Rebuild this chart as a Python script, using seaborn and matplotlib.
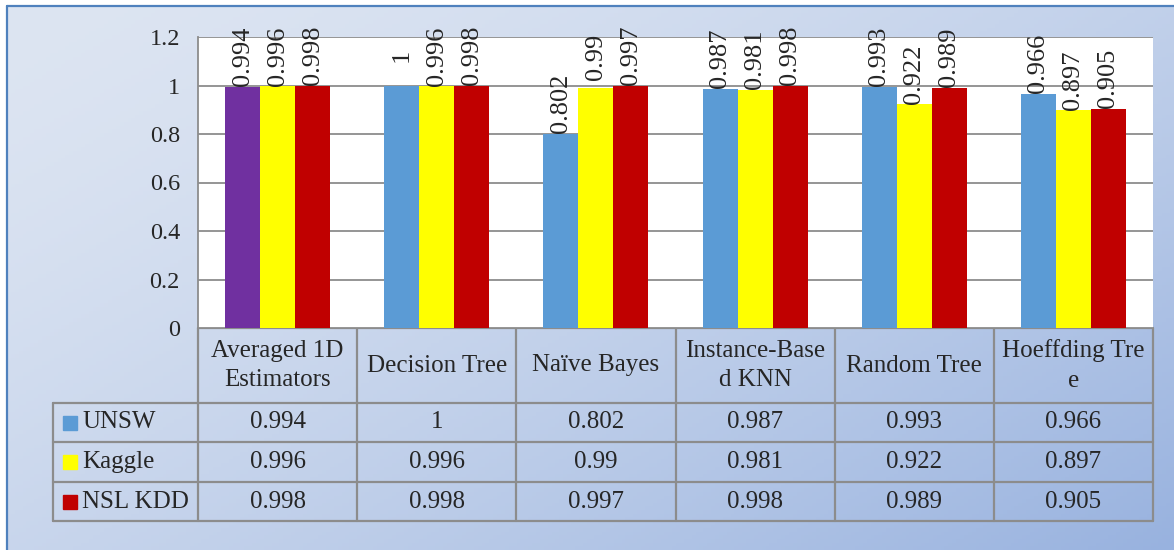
import numpy as np
import pandas as pd
import matplotlib
matplotlib.use("Agg")
import matplotlib.pyplot as plt
import matplotlib.transforms as mtransforms
from matplotlib.colors import to_rgb
import seaborn as sns

# ------------------------------
# Data
# ------------------------------
models = ["Averaged 1D Estimators", "Decision Tree", "Naïve Bayes",
          "Instance-Based KNN", "Random Tree", "Hoeffding Tree"]
header_labels = ["Averaged 1D\nEstimators", "Decision Tree", "Naïve Bayes",
                 "Instance-Base\nd KNN", "Random Tree", "Hoeffding Tre\ne"]
datasets = ["UNSW", "Kaggle", "NSL KDD"]
unsw = [0.994, 1, 0.802, 0.987, 0.993, 0.966]
kaggle = [0.996, 0.996, 0.99, 0.981, 0.922, 0.897]
nsl_kdd = [0.998, 0.998, 0.997, 0.998, 0.989, 0.905]
yticks = [0, 0.2, 0.4, 0.6, 0.8, 1, 1.2]

series = {"UNSW": unsw, "Kaggle": kaggle, "NSL KDD": nsl_kdd}
df = pd.DataFrame([(m, d, series[d][i]) for d in datasets
                   for i, m in enumerate(models)],
                  columns=["Model", "Dataset", "Accuracy"])

colors = {"UNSW": "#5B9BD5", "Kaggle": "#FFFF00", "NSL KDD": "#C00000"}
first_bar_color = "#7030A0"
line_gray = "#8C8C8C"

# ------------------------------
# Figure and background
# ------------------------------
sns.set_style("white")
plt.rcParams["font.family"] = ["Liberation Serif", "DejaVu Serif"]

W, H = 1174, 550
fig = plt.figure(figsize=(W / 100, H / 100), dpi=100)
fig.patch.set_facecolor("white")

bg = fig.add_axes([0, 0, 1, 1])
bg.set_xlim(0, W)
bg.set_ylim(H, 0)
bg.axis("off")

gx, gy = np.meshgrid(np.linspace(0, 1, 300), np.linspace(0, 1, 150))
t = np.clip(0.55 * gx + 0.45 * gy, 0, 1) ** 1.5
c0 = np.array(to_rgb("#DDE5F2"))
c1 = np.array(to_rgb("#98B2DF"))
grad = c0[None, None, :] * (1 - t[..., None]) + c1[None, None, :] * t[..., None]
bg.imshow(grad, extent=[7, W, H, 6], aspect="auto", zorder=0)
bg.plot([7, W], [6, 6], color="#4F81BD", lw=1.6, zorder=1)
bg.plot([7, 7], [6, H], color="#4F81BD", lw=1.6, zorder=1)

# ------------------------------
# Bar chart
# ------------------------------
x0, x1, ytop, ybot = 198, 1153, 37, 328
ax = fig.add_axes([x0 / W, 1 - ybot / H, (x1 - x0) / W, (ybot - ytop) / H])
ax.set_facecolor("white")

sns.barplot(data=df, x="Model", y="Accuracy", hue="Dataset",
            palette=colors, width=0.66, gap=0, saturation=1,
            linewidth=0, legend=False, ax=ax, zorder=3)
ax.containers[0][0].set_facecolor(first_bar_color)

ax.set_xlim(-0.5, len(models) - 0.5)
ax.set_ylim(0, 1.2)
ax.set_yticks(yticks)
ax.set_yticklabels([f"{v:g}" for v in yticks])
ax.tick_params(axis="y", length=0, pad=13, labelsize=17.5)
ax.set_xticks([])
ax.set_xlabel("")
ax.set_ylabel("")
ax.grid(axis="y", color=line_gray, lw=1.3, zorder=0)
for side in ["top", "right", "bottom"]:
    ax.spines[side].set_visible(False)
ax.spines["left"].set_color(line_gray)
ax.spines["left"].set_linewidth(1.3)

for cont in ax.containers:
    for bar in cont:
        h = bar.get_height()
        ax.annotate(f"{h:g}", xy=(bar.get_x() + bar.get_width() / 2, h),
                    xytext=(0, 22), textcoords="offset points",
                    rotation=90, ha="center", va="center", fontsize=19,
                    annotation_clip=False, zorder=5)

# ------------------------------
# Data table under the chart
# ------------------------------
tr = mtransforms.blended_transform_factory(ax.transData, bg.transData)
row_edges = [328, 403, 442, 482, 521]
lab_x = 53
n = len(models)
lkw = dict(color=line_gray, lw=1.6, zorder=4)

bg.plot([x0, x1], [row_edges[0]] * 2, **lkw)
for y in row_edges[1:]:
    bg.plot([lab_x, x1], [y, y], **lkw)
for i in range(n + 1):
    bg.plot([i - 0.5, i - 0.5], [row_edges[0], row_edges[-1]],
            transform=tr, **lkw)
bg.plot([lab_x, lab_x], [row_edges[1], row_edges[-1]], **lkw)

tsize = 18
hy = (row_edges[0] + row_edges[1]) / 2
for i, lab in enumerate(header_labels):
    bg.text(i, hy, lab, transform=tr, ha="center", va="center",
            fontsize=tsize, linespacing=1.45, zorder=5)

for r, d in enumerate(datasets):
    yc = (row_edges[r + 1] + row_edges[r + 2]) / 2
    bg.add_patch(plt.Rectangle((63, yc - 7), 14, 14, color=colors[d], zorder=5))
    bg.text(82, yc, d, ha="left", va="center", fontsize=tsize, zorder=5)
    for i, v in enumerate(series[d]):
        bg.text(i, yc, f"{v:g}", transform=tr, ha="center", va="center",
                fontsize=tsize, zorder=5)

plt.savefig("out.png", dpi=100)
